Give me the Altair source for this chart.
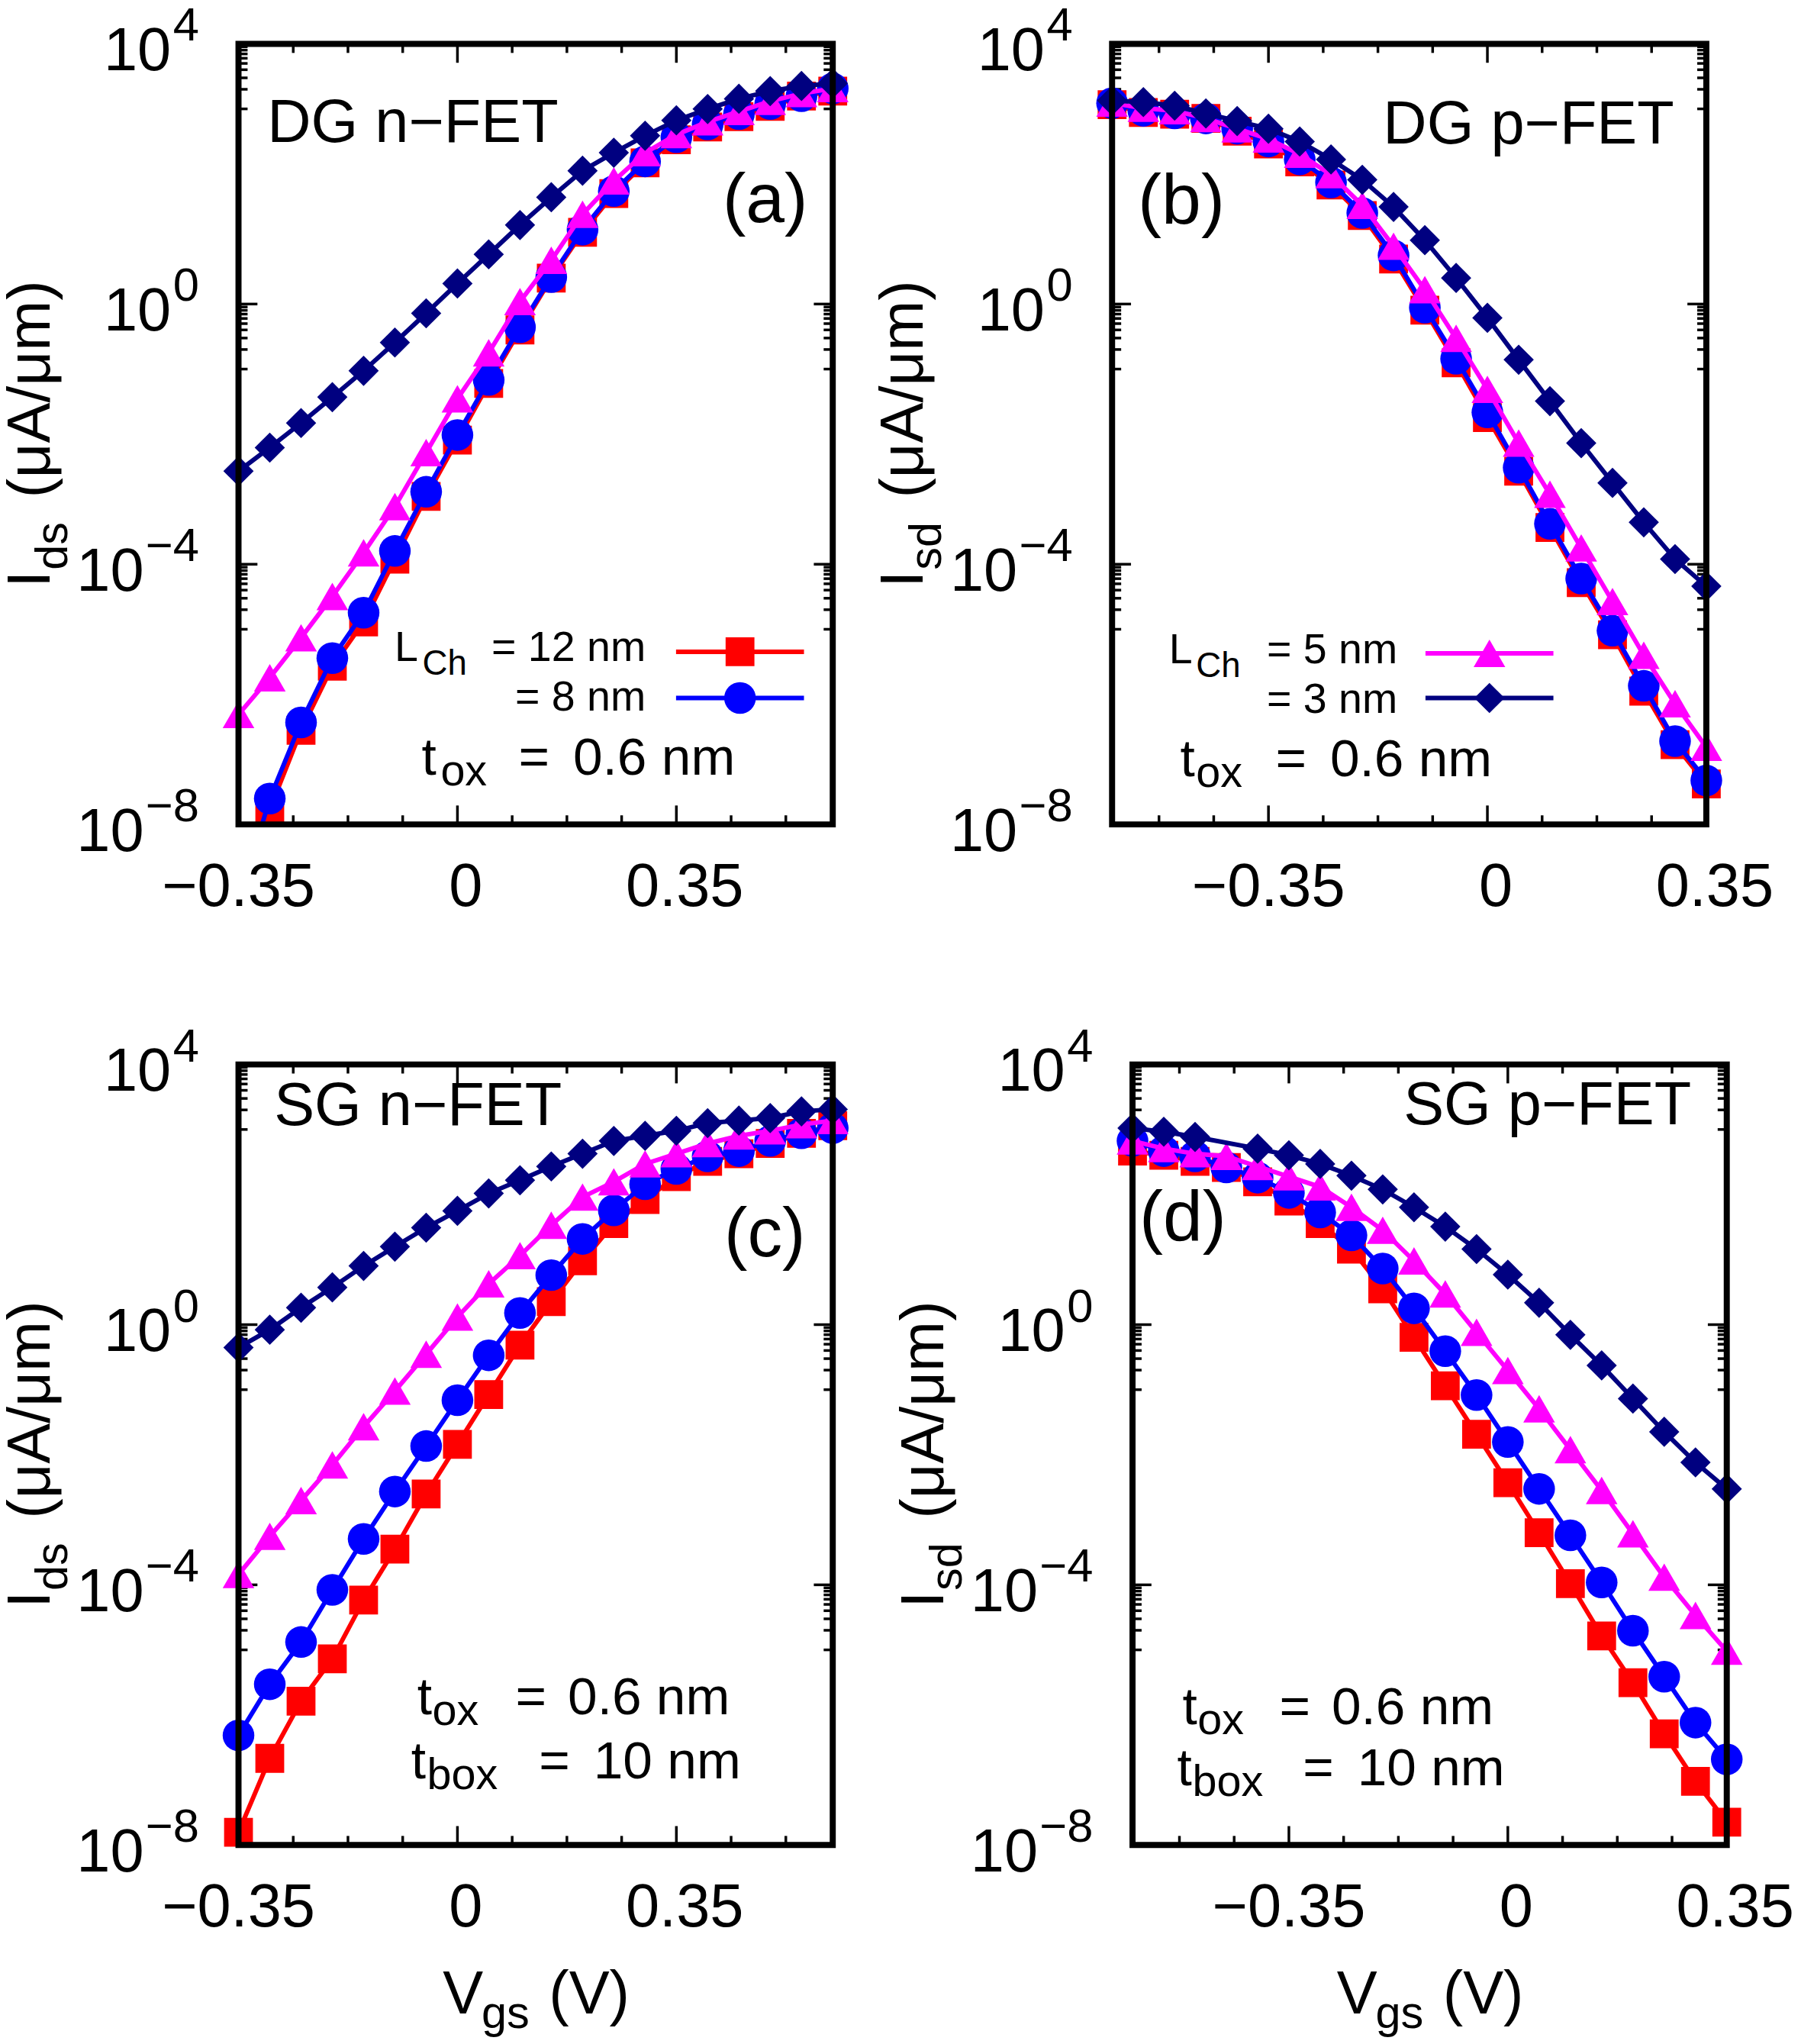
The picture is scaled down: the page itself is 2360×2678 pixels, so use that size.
import altair as alt
import pandas as pd

FONT = "Liberation Sans"
W, H = 785, 1031

# ---------------- data ----------------
VGS_N = [-0.35, -0.30, -0.25, -0.20, -0.15, -0.10, -0.05, 0.00, 0.05, 0.10,
         0.15, 0.20, 0.25, 0.30, 0.35, 0.40, 0.45, 0.50, 0.55, 0.60]
VGS_P = [-0.60, -0.55, -0.50, -0.45, -0.40, -0.35, -0.30, -0.25, -0.20, -0.15,
         -0.10, -0.05, 0.00, 0.05, 0.10, 0.15, 0.20, 0.25, 0.30, 0.35]

# (a) DG n-FET
A_12 = [4.1e-10, 1.7e-8, 2.8e-7, 2.7e-6, 1.3e-5, 1.2e-4, 1.1e-3, 8.1e-3, 6.0e-2, 0.40,
        2.5, 12.7, 50, 148, 335, 527, 759, 1090, 1570, 1880]
A_8 = [5.9e-10, 2.5e-8, 3.7e-7, 3.6e-6, 1.8e-5, 1.6e-4, 1.3e-3, 9.7e-3, 6.8e-2, 0.44,
       2.6, 13.9, 54.5, 156, 366, 577, 830, 1190, 1570, 2060]
A_5 = [4.9e-7, 1.8e-6, 7.4e-6, 3.2e-5, 1.5e-4, 7.7e-4, 5.2e-3, 3.5e-2, 0.178, 1.09,
       4.7, 24, 78, 212, 402, 632, 910, 1310, 1720, 2060]
A_3 = [2.7e-3, 6.2e-3, 1.48e-2, 3.7e-2, 9.4e-2, 0.256, 0.72, 2.07, 5.8, 16.4,
       43.8, 112, 212, 387, 667, 995, 1430, 1880, 2250, 2470]

# (b) DG p-FET
B_12 = [1160, 880, 830, 713, 453, 288, 153, 67.8, 22.9, 4.92,
        0.805, 0.125, 1.80e-2, 2.69e-3, 3.68e-4, 5.21e-5, 8.24e-6, 1.12e-6, 1.68e-7, 4.18e-8]
B_8 = [1225, 935, 853, 713, 495, 315, 167, 74.1, 25.1, 5.58,
       0.881, 0.144, 2.16e-2, 3.05e-3, 4.18e-4, 6.03e-5, 9.51e-6, 1.35e-6, 1.91e-7, 4.74e-8]
B_5 = [1225, 1023, 935, 713, 495, 345, 201, 97.3, 32.9, 7.73,
       1.66, 0.297, 4.88e-2, 7.28e-3, 1.19e-3, 1.78e-4, 2.67e-5, 3.99e-6, 7.16e-7, 1.54e-7]
B_3 = [1343, 1271, 1119, 853, 650, 495, 315, 167, 81.3, 31.1,
       9.59, 2.52, 0.614, 0.139, 3.21e-2, 7.28e-3, 1.78e-3, 4.41e-4, 1.20e-4, 4.59e-5]

# (c) SG n-FET
C_12 = [1.57e-8, 2.15e-7, 1.63e-6, 7.29e-6, 5.82e-5, 3.54e-4, 2.49e-3, 1.44e-2, 8.41e-2, 0.485,
        2.25, 9.55, 35.7, 83.6, 188, 324, 424, 608, 873, 1146]
C_8 = [4.85e-7, 2.96e-6, 1.32e-5, 8.36e-5, 5.08e-4, 2.72e-3, 1.36e-2, 6.90e-2, 0.338, 1.51,
       5.77, 20.8, 57.1, 144, 247, 387, 465, 667, 873, 1047]
C_5 = [1.44e-4, 5.56e-4, 1.97e-3, 6.97e-3, 2.70e-2, 9.55e-2, 0.351, 1.31, 4.24, 11.5,
       33.8, 91.4, 157, 296, 424, 608, 798, 955, 1189, 1371]
C_3 = [0.444, 0.836, 1.82, 3.74, 7.98, 15.8, 30.9, 56.1, 104, 166,
       270, 424, 667, 798, 955, 1253, 1371, 1500, 1897, 2042]

# (d) SG p-FET
D_12 = [465, 402, 324, 261, 157, 79.1, 35.7, 14.5, 3.54, 0.637,
        0.115, 2.06e-2, 3.71e-3, 6.31e-4, 1.04e-4, 1.64e-5, 3.12e-6, 5.13e-7, 9.55e-8, 2.25e-8]
D_8 = [667, 465, 387, 261, 182, 106, 53.1, 23.6, 7.29, 1.78,
       0.391, 8.28e-2, 1.57e-2, 2.99e-3, 5.77e-4, 1.09e-4, 1.97e-5, 3.87e-6, 7.62e-7, 2.08e-7]
D_5 = [667, 508, 424, 387, 270, 188, 131, 63.7, 28.2, 9.55,
       2.96, 0.762, 0.197, 5.08e-2, 1.20e-2, 2.82e-3, 6.08e-4, 1.31e-4, 3.38e-5, 9.55e-6]
D_3 = [1047, 923, 769, None, 508, 402, 296, 195, 120, 63.7,
       32.1, 14.5, 5.87, 2.17, 0.697, 0.236, 7.29e-2, 2.25e-2, 7.62e-3, 2.99e-3]

# series styles: 12 nm, 8 nm, 5 nm, 3 nm
COLORS = ["#ff0000", "#0000ff", "#ff00ff", "#000080"]
SHAPES = ["square", "circle", "triangle-up", "diamond"]
SIZES = [1450, 1750, 1750, 1600]

# tick values / labels
Y_MAJOR = [1e-8, 1e-4, 1.0, 1e4]
Y_MINOR = [k * 10.0 ** e for e in (-5, -1, 3) for k in range(1, 10)]
YT_VALS = [1e4, 1.0, 1e-4, 1e-8]
YT_EXP = ["4", "0", "\u22124", "\u22128"]
X_MAJOR = [-0.35, 0.0, 0.35]
X_MINOR_N = [-0.2625, -0.175, -0.0875, 0.0875, 0.175, 0.2625, 0.4375, 0.525]
X_MINOR_P = [-0.525, -0.4375, -0.2625, -0.175, -0.0875, 0.0875, 0.175, 0.2625]
XT_LABELS = ["\u22120.35", "0", "0.35"]

DUMMY = pd.DataFrame({"d": [0]})


def txt(s, x, y, size, align="left", angle=0):
    return alt.Chart(DUMMY).mark_text(
        text=s, font=FONT, fontSize=size, align=align, baseline="alphabetic",
        angle=angle, color="black").encode(x=alt.value(x), y=alt.value(y))


def build_panel(vgs, series, xdom, xminor, texts, legend, ysub, xtitle):
    xs = alt.Scale(domain=xdom, nice=False, zero=False)
    ys = alt.Scale(type="log", domain=[1e-8, 1e4], nice=False)
    L = []
    # inward ticks, mirrored on both sides
    for vals, ln in ((Y_MAJOR, 25), (Y_MINOR, 12)):
        d = pd.DataFrame({"t": vals})
        for x0, x1 in ((0, ln), (W - ln, W)):
            L.append(alt.Chart(d).mark_rule(color="black", strokeWidth=3.5).encode(
                y=alt.Y("t:Q", scale=ys, axis=None), x=alt.value(x0), x2=alt.value(x1)))
    for vals, ln in ((X_MAJOR, 25), (xminor, 12)):
        d = pd.DataFrame({"t": vals})
        for y0, y1 in ((0, ln), (H - ln, H)):
            L.append(alt.Chart(d).mark_rule(color="black", strokeWidth=3.5).encode(
                x=alt.X("t:Q", scale=xs, axis=None), y=alt.value(y0), y2=alt.value(y1)))
    # data series
    for i, vals in enumerate(series):
        df = pd.DataFrame({"vgs": vgs, "I": vals}).dropna()
        base = alt.Chart(df).encode(
            x=alt.X("vgs:Q", scale=xs, axis=None),
            y=alt.Y("I:Q", scale=ys, axis=None))
        L.append(base.mark_line(color=COLORS[i], strokeWidth=6, clip=True))
        L.append(base.transform_filter("datum.I >= 1e-8").mark_point(
            shape=SHAPES[i], size=SIZES[i], filled=True, color=COLORS[i], opacity=1))
    # legend samples
    for idx, lx0, lx1, ly in legend:
        L.append(alt.Chart(DUMMY).mark_rule(color=COLORS[idx], strokeWidth=6).encode(
            x=alt.value(lx0), x2=alt.value(lx1), y=alt.value(ly)))
        L.append(alt.Chart(DUMMY).mark_point(
            shape=SHAPES[idx], size=SIZES[idx], filled=True, color=COLORS[idx], opacity=1
        ).encode(x=alt.value((lx0 + lx1) / 2), y=alt.value(ly)))
    # frame on top
    L.append(alt.Chart(DUMMY).mark_rect(fillOpacity=0, stroke="black", strokeWidth=8).encode(
        x=alt.value(0), x2=alt.value(W), y=alt.value(0), y2=alt.value(H)))
    # y tick labels 10^n
    yl = pd.DataFrame({"v": YT_VALS, "e": YT_EXP})
    for sub, bx in ((yl[yl.e.str.len() == 1], -89), (yl[yl.e.str.len() > 1], -125)):
        L.append(alt.Chart(sub).mark_text(
            text="10", font=FONT, fontSize=80, align="right", baseline="alphabetic",
            dy=35, color="black").encode(y=alt.Y("v:Q", scale=ys, axis=None), x=alt.value(bx)))
    L.append(alt.Chart(yl).mark_text(
        font=FONT, fontSize=62, align="right", baseline="alphabetic", dy=-4, color="black"
    ).encode(y=alt.Y("v:Q", scale=ys, axis=None), x=alt.value(-52), text="e:N"))
    # x tick labels
    xl = pd.DataFrame({"v": X_MAJOR, "s": XT_LABELS})
    for sub, dx in ((xl[xl.v < 0], 0), (xl[xl.v >= 0], 11)):
        L.append(alt.Chart(sub).mark_text(
            font=FONT, fontSize=80, align="center", baseline="alphabetic", dx=dx, color="black"
        ).encode(x=alt.X("v:Q", scale=xs, axis=None), y=alt.value(H + 108), text="s:N"))
    # y title  I_ds (uA/um)
    L.append(txt("I", -250, 718, 80, angle=270))
    L.append(txt(ysub, -226, 695, 60, angle=270))
    L.append(txt("(\u03bcA/\u03bcm)", -250, 600, 80, angle=270))
    # x title
    if xtitle:
        L.append(txt("V", 270, H + 222, 80))
        L.append(txt("gs", 321, H + 242, 60))
        L.append(txt("(V)", 410, H + 222, 80))
    for t in texts:
        L.append(txt(*t))
    return alt.layer(*L).properties(width=W, height=H)


pa = build_panel(
    VGS_N, [A_12, A_8, A_5, A_3], [-0.35, 0.6], X_MINOR_N,
    [("DG n\u2212FET", 38, 130, 80), ("(a)", 752, 235, 92, "right"),
     ("L", 206, 815, 56), ("Ch", 243, 833, 46),
     ("= 12 nm", 538, 815, 56, "right"), ("= 8 nm", 538, 881, 56, "right"),
     ("t", 242, 965, 70), ("ox", 267, 979, 58), ("=", 370, 965, 70), ("0.6 nm", 442, 965, 70)],
    [(0, 578, 747, 803), (1, 578, 747, 864)], "ds", False)

pb = build_panel(
    VGS_P, [B_12, B_8, B_5, B_3], [-0.6, 0.35], X_MINOR_P,
    [("DG p\u2212FET", 358, 132, 80), ("(b)", 34, 237, 94),
     ("L", 75, 818, 56), ("Ch", 111, 836, 46),
     ("= 5 nm", 377, 818, 56, "right"), ("= 3 nm", 377, 884, 56, "right"),
     ("t", 90, 967, 70), ("ox", 111, 981, 58), ("=", 216, 967, 70), ("0.6 nm", 288, 967, 70)],
    [(2, 414, 583, 805), (3, 414, 583, 864)], "sd", False)

pc = build_panel(
    VGS_N, [C_12, C_8, C_5, C_3], [-0.35, 0.6], X_MINOR_N,
    [("SG n\u2212FET", 47, 80, 80), ("(c)", 749, 253, 92, "right"),
     ("t", 236, 858, 70), ("ox", 256, 872, 58), ("=", 366, 858, 70), ("0.6 nm", 435, 858, 70),
     ("t", 228, 943, 70), ("box", 249, 957, 58), ("=", 397, 943, 70), ("10 nm", 469, 943, 70)],
    [], "ds", True)

pd_ = build_panel(
    VGS_P, [D_12, D_8, D_5, D_3], [-0.6, 0.35], X_MINOR_P,
    [("SG p\u2212FET", 358, 79, 80), ("(d)", 9, 232, 94),
     ("t", 66, 871, 70), ("ox", 86, 885, 58), ("=", 194, 871, 70), ("0.6 nm", 263, 871, 70),
     ("t", 59, 952, 70), ("box", 79, 966, 58), ("=", 225, 952, 70), ("10 nm", 297, 952, 70)],
    [], "sd", True)

row1 = alt.hconcat(pa, pb, spacing=369, bounds="flush")
row2 = alt.hconcat(pc, pd_, spacing=396, bounds="flush")

chart = alt.vconcat(row1, row2, spacing=137).properties(
    padding={"left": -8, "top": -16, "right": 0, "bottom": 0}
).configure_view(stroke="transparent")

chart.save("out.html", embed_options={"renderer": "svg", "actions": False})
